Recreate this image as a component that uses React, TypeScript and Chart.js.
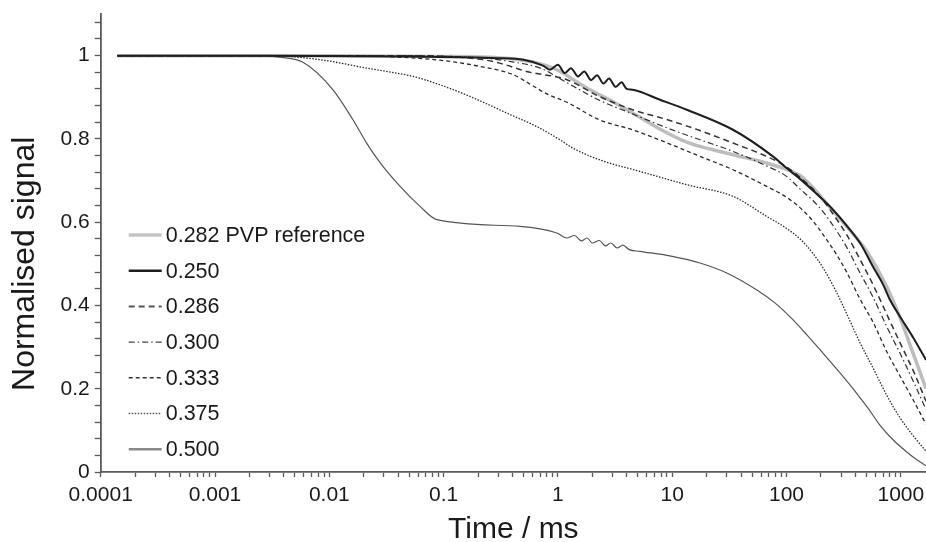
import React, { useEffect, useRef } from 'react';
import { Chart, registerables } from 'chart.js';

Chart.register(...registerables);

// ---------- data (time in ms, normalised signal) ----------
const seriesLabels = ['0.282 PVP reference', '0.250', '0.286', '0.300', '0.333', '0.375', '0.500'];

const tRef = [1.4e-4, 0.01, 0.1, 0.3, 0.6, 1, 1.5, 2, 3, 5, 8, 13.4, 17.5, 34, 67, 100, 131, 161, 209, 294, 400, 503, 753, 985, 1300, 1660];
const vRef = [1, 1, 0.998, 0.995, 0.985, 0.965, 0.935, 0.915, 0.89, 0.855, 0.822, 0.792, 0.782, 0.762, 0.742, 0.727, 0.712, 0.69, 0.655, 0.608, 0.565, 0.53, 0.445, 0.37, 0.28, 0.2];

const t250 = [1.4e-4, 0.003, 0.05, 0.3, 0.5, 0.74, 0.85, 1.0, 1.15, 1.3, 1.5, 1.7, 1.95, 2.2, 2.5, 2.8, 3.2, 3.6, 4.0, 4.5, 7.8, 13.4, 34, 76, 100, 131, 180, 255, 340, 440, 571, 700, 805, 985, 1300, 1660];
const v250 = [1, 1, 0.998, 0.994, 0.99, 0.976, 0.966, 0.978, 0.958, 0.97, 0.95, 0.962, 0.941, 0.953, 0.933, 0.945, 0.925, 0.936, 0.92, 0.918, 0.894, 0.87, 0.822, 0.758, 0.73, 0.704, 0.67, 0.63, 0.59, 0.55, 0.493, 0.45, 0.413, 0.373, 0.32, 0.269];

const t286 = [1.4e-4, 0.05, 0.2, 0.31, 0.53, 1.2, 2.3, 4.5, 9.1, 17.5, 34, 67, 100, 131, 170, 209, 270, 336, 440, 571, 750, 985, 1300, 1660];
const v286 = [1, 1, 0.992, 0.982, 0.962, 0.942, 0.902, 0.87, 0.846, 0.82, 0.79, 0.758, 0.733, 0.708, 0.68, 0.652, 0.61, 0.57, 0.51, 0.45, 0.38, 0.31, 0.24, 0.17];

const t300 = [1.4e-4, 0.03, 0.2, 0.4, 0.7, 1.2, 2.3, 4.5, 9.1, 17.5, 34, 67, 100, 131, 170, 209, 270, 336, 440, 571, 750, 985, 1300, 1660];
const v300 = [1, 1, 0.995, 0.985, 0.97, 0.935, 0.893, 0.86, 0.826, 0.798, 0.77, 0.735, 0.71, 0.68, 0.652, 0.625, 0.582, 0.54, 0.478, 0.42, 0.35, 0.285, 0.215, 0.15];

const t333 = [1.4e-4, 0.01, 0.03, 0.1, 0.2, 0.4, 0.6, 0.8, 1.2, 2.3, 4.5, 9.1, 17.5, 34, 67, 100, 131, 170, 209, 270, 336, 440, 571, 750, 985, 1300, 1660];
const v333 = [1, 1, 0.998, 0.988, 0.975, 0.955, 0.928, 0.908, 0.888, 0.846, 0.822, 0.79, 0.758, 0.726, 0.686, 0.66, 0.635, 0.603, 0.57, 0.525, 0.48, 0.415, 0.36, 0.29, 0.23, 0.17, 0.115];

const t375 = [1.4e-4, 0.003, 0.0084, 0.0212, 0.054, 0.093, 0.17, 0.4, 0.65, 1.04, 1.35, 2.3, 5.2, 13.4, 34, 67, 100, 131, 170, 209, 270, 336, 440, 571, 750, 985, 1300, 1660];
const v375 = [1, 1, 0.99, 0.97, 0.95, 0.93, 0.902, 0.856, 0.83, 0.798, 0.778, 0.75, 0.722, 0.69, 0.662, 0.614, 0.585, 0.56, 0.525, 0.49, 0.435, 0.38, 0.31, 0.25, 0.185, 0.13, 0.085, 0.05];

const t500 = [1.4e-4, 0.0025, 0.00347, 0.00589, 0.01077, 0.0161, 0.0212, 0.0278, 0.0416, 0.0622, 0.0871, 0.466, 0.977, 1.19, 1.4, 1.6, 1.8, 2.0, 2.3, 2.6, 2.9, 3.3, 3.7, 4.2, 5.2, 10, 17.5, 30, 55, 80, 107, 150, 209, 300, 411, 520, 658, 850, 1127, 1400, 1660];
const v500 = [1, 1, 0.997, 0.984, 0.918, 0.846, 0.79, 0.743, 0.686, 0.638, 0.606, 0.59, 0.574, 0.562, 0.568, 0.555, 0.562, 0.55, 0.556, 0.543, 0.55, 0.538, 0.545, 0.534, 0.53, 0.518, 0.502, 0.478, 0.437, 0.405, 0.373, 0.33, 0.285, 0.235, 0.189, 0.152, 0.112, 0.078, 0.048, 0.028, 0.015];

const seriesTimes = [tRef, t250, t286, t300, t333, t375, t500];
const seriesValues = [vRef, v250, v286, v300, v333, v375, v500];

const xMin = 0.0001;
const xMax = 1660;
const yMin = 0;
const yMax = 1.1;
const yMinorStep = 0.04;
const yMajorStep = 0.2;
const xTitle = 'Time / ms';
const yTitle = 'Normalised signal';

// ---------- styles ----------
const seriesStyles = [
  { color: '#bdbdbd', width: 3.5, dash: [] as number[], legendColor: '#c4c4c4', legendWidth: 3.5, order: 10 },
  { color: '#1e1e1e', width: 2, dash: [] as number[], legendColor: '#1e1e1e', legendWidth: 2.5, order: 0 },
  { color: '#333333', width: 1.5, dash: [6, 4], legendColor: '#555555', legendWidth: 2, order: 1 },
  { color: '#333333', width: 1.2, dash: [6, 3, 1.5, 3], legendColor: '#444444', legendWidth: 1.3, order: 2 },
  { color: '#2a2a2a', width: 1.3, dash: [4, 3], legendColor: '#333333', legendWidth: 1.5, order: 3 },
  { color: '#2a2a2a', width: 1.3, dash: [1.5, 1.5], legendColor: '#555555', legendWidth: 1.5, order: 4 },
  { color: '#555555', width: 1.2, dash: [] as number[], legendColor: '#8a8a8a', legendWidth: 2.5, order: 5 },
];

const FONT = '"Liberation Sans", Arial, Helvetica, sans-serif';
const AXIS_COLOR = '#5a5a5a';
const TEXT_COLOR = '#1a1a1a';

function xTicks(): number[] {
  const out: number[] = [];
  for (let e = -4; e <= 3; e++) {
    for (let m = 1; m <= 9; m++) {
      const v = m * Math.pow(10, e);
      if (v <= xMax * 1.0000001) out.push(v);
    }
  }
  return out;
}

function isDecade(v: number): boolean {
  const l = Math.log10(v);
  return Math.abs(l - Math.round(l)) < 1e-6;
}

const inlineLegend = {
  id: 'inlineLegend',
  afterDatasetsDraw(chart: any) {
    const { ctx, chartArea } = chart;
    const x0 = chartArea.left + 28;
    const x1 = x0 + 33;
    const y0 = chartArea.top + 221;
    const dy = 35.7;
    ctx.save();
    chart.data.datasets.forEach((ds: any, i: number) => {
      const st = seriesStyles[i];
      const y = y0 + i * dy;
      ctx.beginPath();
      ctx.setLineDash(st.dash);
      ctx.strokeStyle = st.legendColor;
      ctx.lineWidth = st.legendWidth;
      ctx.moveTo(x0, y);
      ctx.lineTo(x1, y);
      ctx.stroke();
      ctx.setLineDash([]);
      ctx.fillStyle = TEXT_COLOR;
      ctx.font = `21.5px ${FONT}`;
      ctx.textBaseline = 'middle';
      ctx.textAlign = 'left';
      ctx.fillText(ds.label, x1 + 4, y + 1);
    });
    ctx.restore();
  },
};

const yTitlePlugin = {
  id: 'yTitle',
  afterDraw(chart: any) {
    const { ctx } = chart;
    const y = chart.scales.y;
    const cy = y.getPixelForValue(0.5);
    ctx.save();
    ctx.translate(25, cy);
    ctx.rotate(-Math.PI / 2);
    ctx.fillStyle = TEXT_COLOR;
    ctx.font = `32px ${FONT}`;
    ctx.textAlign = 'center';
    ctx.textBaseline = 'middle';
    ctx.fillText(yTitle, 0, 0);
    ctx.restore();
  },
};

export default function App() {
  const ref = useRef<HTMLCanvasElement | null>(null);

  useEffect(() => {
    document.body.style.margin = '0';
    const canvas = ref.current;
    if (!canvas) return;
    const datasets = seriesLabels.map((label, i) => ({
      label,
      data: seriesTimes[i].map((t, j) => ({ x: t, y: seriesValues[i][j] })),
      borderColor: seriesStyles[i].color,
      borderWidth: seriesStyles[i].width,
      borderDash: seriesStyles[i].dash,
      pointRadius: 0,
      fill: false,
      cubicInterpolationMode: 'monotone' as const,
      order: seriesStyles[i].order,
    }));

    const chart = new Chart(canvas, {
      type: 'line',
      data: { datasets },
      plugins: [inlineLegend, yTitlePlugin],
      options: {
        animation: false,
        responsive: false,
        devicePixelRatio: 1,
        layout: { padding: { top: 14, right: 0, left: 0, bottom: 0 } },
        plugins: { legend: { display: false }, tooltip: { enabled: false } },
        scales: {
          x: {
            type: 'logarithmic',
            min: xMin,
            max: xMax,
            afterBuildTicks: (scale: any) => {
              scale.ticks = xTicks().map((v) => ({ value: v, major: isDecade(v) }));
            },
            afterFit: (scale: any) => {
              scale.height = 70;
              scale.paddingLeft = 0;
              scale.paddingRight = 0;
            },
            grid: { display: true, drawOnChartArea: false, drawTicks: true, tickLength: 5, tickColor: AXIS_COLOR, tickWidth: 1.3 },
            border: { display: true, color: AXIS_COLOR, width: 1.8 },
            ticks: {
              autoSkip: false,
              maxRotation: 0,
              minRotation: 0,
              padding: 6,
              color: TEXT_COLOR,
              font: { family: FONT, size: 21 },
              callback: (value: any) => {
                const v = Number(value);
                if (!isDecade(v)) return '';
                const e = Math.round(Math.log10(v));
                return e < 0 ? v.toFixed(-e) : String(Math.round(v));
              },
            },
            title: {
              display: true,
              text: xTitle,
              color: TEXT_COLOR,
              font: { family: FONT, size: 30, lineHeight: 0.8 },
              padding: 0,
            },
          },
          y: {
            type: 'linear',
            min: yMin,
            max: yMax,
            afterBuildTicks: (scale: any) => {
              const arr: any[] = [];
              const n = Math.floor(yMax / yMinorStep + 1e-6);
              for (let i = 0; i <= n; i++) arr.push({ value: +(i * yMinorStep).toFixed(4) });
              scale.ticks = arr;
            },
            afterFit: (scale: any) => {
              scale.width = 100.7;
              scale.paddingTop = 0;
              scale.paddingBottom = 0;
            },
            grid: { display: true, drawOnChartArea: false, drawTicks: true, tickLength: 6, tickColor: AXIS_COLOR, tickWidth: 1.3 },
            border: { display: true, color: AXIS_COLOR, width: 1.8 },
            ticks: {
              autoSkip: false,
              padding: 5,
              color: TEXT_COLOR,
              font: { family: FONT, size: 21 },
              callback: (value: any) => {
                const v = Number(value);
                const k = v / yMajorStep;
                if (Math.abs(k - Math.round(k)) > 1e-6) return '';
                if (Math.abs(v) < 1e-9) return '0';
                if (Math.abs(v - 1) < 1e-9) return '1';
                return v.toFixed(1);
              },
            },
            title: { display: false },
          },
        },
      },
    } as any);

    return () => chart.destroy();
  }, []);

  return (
    <div style={{ width: 926, height: 542 }}>
      <canvas ref={ref} width={926} height={542} style={{ display: 'block' }} />
    </div>
  );
}
